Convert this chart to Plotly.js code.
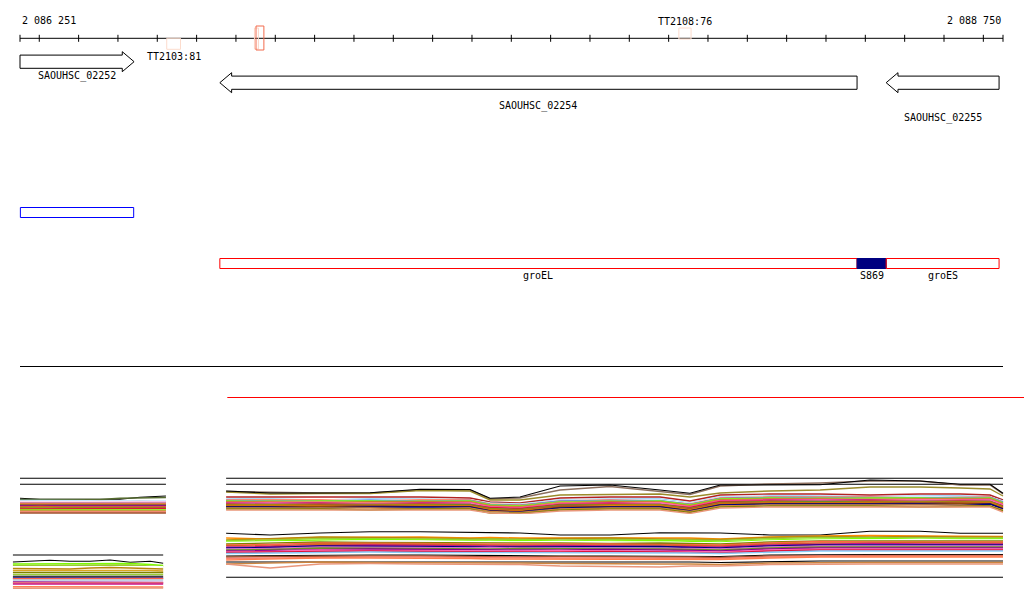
<!DOCTYPE html>
<html><head><meta charset="utf-8">
<script src="https://cdn.plot.ly/plotly-3.0.1.min.js"></script>
<style>html,body{margin:0;padding:0;background:#fff}#chart{width:1024px;height:611px}</style>
</head><body><div id="chart"></div>
<script>
// ---------------- DATA ----------------
const windowStart = 2086251;
const windowEnd = 2088750;
const rulerTicks = [2086251, 2086300, 2086400, 2086500, 2086600, 2086700, 2086800, 2086900,
  2087000, 2087100, 2087200, 2087300, 2087400, 2087500, 2087600, 2087700, 2087800, 2087900,
  2088000, 2088100, 2088200, 2088300, 2088400, 2088500, 2088600, 2088700, 2088750];

const geneNames = ["SAOUHSC_02252", "SAOUHSC_02254", "SAOUHSC_02255"];
const geneStarts = [2086251, 2086759, 2088453];
const geneEnds = [2086541, 2088379, 2088740];
const geneStrands = ["+", "-", "-"];

const termLabels = ["TT2103:81", "", "", "TT2108:76"];
const termStarts = [2086624, 2086847, 2086851, 2087926];
const termEnds = [2086659, 2086857, 2086871, 2087957];

const probeStarts = [2086252];
const probeEnds = [2086540];

const regionNames = ["groEL", "S869", "groES"];
const regionStarts = [2086759, 2088379, 2088453];
const regionEnds = [2088379, 2088453, 2088740];
const coverageStart = 2086778;

// expression panels (x in genome coordinates, y = signal level)
const panelA_x = [2086251, 2086302, 2086353, 2086404, 2086454, 2086505, 2086556, 2086622];
const panelA_colors = ["#000000","#000000","#000000","#556b2f","#87cefa","#808080","#ffffff","#ff69b4","#da70d6",
  "#9acd32","#ff6347","#b8860b","#000080","#c71585","#d2691e","#808000","#dc143c","#7cfc00","#cd853f","#fa8072","#a0522d"];
const panelA_values = [
  [36.7,36.7,36.7,36.7,36.7,36.7,36.7,36.7],
  [30.7,30.7,30.7,30.7,30.7,30.7,30.7,30.7],
  [16.7,15.7,15.7,15.7,15.7,15.7,17.7,19],
  [15.5,15.5,15.5,15.5,15.5,16.7,17,17.5],
  [14.5,14.5,14,14,14.5,14.5,14,14],
  [13.5,13,13,13,13.5,13,13.5,13],
  [13.8,13.8,14,13.8,13.8,14,13.8,13.8],
  [12.5,12.5,13,12.5,12.5,13,12.5,12.5],
  [12,12,12.5,12,12,12,12,12.5],
  [11.5,11.5,11.5,11.5,11.5,11.5,11.5,11.5],
  [11,11,10.5,11,11,11,10.5,11],
  [10,10,10,9.5,10,10,10,10],
  [9.5,9.5,9.5,9.5,9.5,9.5,10,9.5],
  [9,9,9,9,9,9,8.5,9],
  [8,8.5,8,8,8,8.5,8,8],
  [7,7,7,7,7.5,7,7,7],
  [6,6,6,6,6.5,6,6,6.5],
  [5,5,5,5.5,5,5,5,5],
  [4,4,4,4,4,4,4.5,4],
  [3,3,3,3,3,2.5,3,3],
  [2,2,1.5,1.5,1.5,1.5,2,2]
];

const panelB_x = [2086233, 2086276, 2086327, 2086378, 2086429, 2086480, 2086531, 2086582, 2086615];
const panelB_colors = ["#000000","#000000","#7cfc00","#9acd32","#ffffff","#b8860b","#daa520","#808000","#9acd32",
  "#000000","#000080","#ff6347","#b0c4de","#8b008b","#fa8072","#c71585","#ff7f50","#e9967a"];
const panelB_values = [
  [36,36,36,36,36,36,36,36,36],
  [29,29.7,30.7,29.7,29.7,31,28.7,29.7,27.7],
  [27,27,27,27,27.5,27.5,27.5,26.5,25.5],
  [25.5,25.5,25.5,25.5,26,26,26,25,24.5],
  [24.3,24.3,24.3,24.3,24.3,24.3,24.3,24.3,24.3],
  [22.5,22.5,22.5,22,23,23.5,23,22.5,22],
  [20.5,20.5,20.5,20.5,21,21,20.5,20.5,20],
  [18.5,18.5,18.5,19,19,18.5,18.5,18.5,18.5],
  [16.5,16.5,16.5,16.5,16.5,17,16.5,16.5,16.5],
  [14.7,14.7,14.7,14.7,14.7,14.7,14.7,14.7,14.7],
  [13,13,13,13,12.5,12.5,13,13,13],
  [12.3,12.3,12.5,12.5,12.5,12,12,12.5,12.5],
  [11,11,11,11,11,11,11,11,11],
  [9,9,9,8.5,8.5,9,9,8.5,8.5],
  [8,8,8,8,8,8,7.5,7.5,8],
  [7,7,7,7,7.5,7.5,7.5,7,7],
  [4.3,4.3,4.3,4.3,4.3,4.3,4.3,4,4],
  [2.7,2.7,2.7,2.7,3,3,3,3,3]
];

const panelC_x = [2086775, 2086887, 2087014, 2087141, 2087268, 2087395, 2087446, 2087522, 2087624, 2087751,
  2087878, 2087954, 2088031, 2088158, 2088285, 2088412, 2088539, 2088641, 2088717, 2088750];
const panelC_colors = ["#000000","#000000","#8b6f5e","#9b8b2b","#000000","#b22222",
  "#87cefa","#ffffff","#ff6347","#6495ed","#7cfc00","#9acd32","#d2691e","#fa8072","#c71585","#ff69b4",
  "#da70d6","#dc143c","#6b8e23","#b8860b","#a0522d","#ff8c00","#8b4513","#000080","#cd853f","#808000","#e9967a"];
const panelC_values = [
  [35.7,35.7,35.7,35.7,35.7,35.7,35.7,35.7,35.7,35.7,35.7,35.7,35.7,35.7,35.7,35.7,35.7,35.7,35.7,35.7],
  [29.7,29.7,29.7,29.7,29.7,29.7,29.7,29.7,29.7,29.7,29.7,29.7,29.7,29.7,29.7,29.7,29.7,29.7,29.7,29.7],
  [22.5,21.5,21,21,24,24,15,16,24,27.5,22.5,19.5,28,30,31,33,33,29,29,20],
  [22,20,20.5,20.5,23.5,23,14,14,19,19.5,20,17,21,23,24,27,27,26,25,18],
  [23,21,21,21.3,24.7,24.5,15.7,17,28,29,24,20.7,29,29.3,29.3,34,33,29.7,29.7,20.7],
  [17,17,17,17,17,16,12,11,16,17,17,13,19,20,20,19,20,20,19,14],
  [15,15,14,15,15,14,11,10,14,15,15,11,17,18,18,17,18,18,17,13],
  [14.5,14,14.5,14,14.5,14,10.5,9.5,13.5,14.5,14,10.5,16.5,17,17.5,17,17.5,17,17,12.5],
  [14,14,14,13,14,14,10,9,13,14,13,10,16,17,17,17,16,17,17,12],
  [13.5,13.5,13,14,13,13.5,9.5,8.5,13,13.5,13.5,9.5,15.5,16.5,16.5,16,16.5,16,16.5,12],
  [13,12,13,13,12,13,9,8,12,12,13,9,15,16,15,16,16,15,16,11],
  [12.5,13,12.5,12,13,12.5,8.5,7.5,12,13,12,8.5,14.5,15.5,16,15.5,15,16,15.5,11],
  [12,12,11,12,12,12,8,7,11,12,12,8,14,15,15,14,15,15,15,10],
  [11.5,11.5,12,11,11.5,11.5,7.5,6.5,11,11.5,11.5,7.5,13.5,14.5,14.5,14.5,14,14.5,14.5,9.5],
  [11,11,11,10,11,11,7,6,10,11,10,7,13,14,14,14,13,14,14,9],
  [10.5,11,10,10.5,10,11,7,6,10,10,11,7,13,13.5,14,13,14,13.5,14,9],
  [10,10,10,10,9,10,6,5,9,10,10,6,12,13,13,12,13,13,13,8],
  [10,9.5,10,9.5,10,9.5,6.5,5.5,9.5,10,9.5,6.5,12.5,13,12.5,13,12.5,13,12.5,8],
  [9.5,9.5,9.5,10,9.5,9.5,5.5,4.5,9,9.5,9.5,5.5,11.5,12.5,12.5,12.5,12.5,12,12.5,7.5],
  [9,9,9,9,9,8,5,4,8,9,9,5,11,12,11,12,12,12,12,7],
  [8.5,8,9,8.5,8,8.5,4.5,3.5,8,8.5,8,5,10.5,11.5,11,11.5,11,11.5,11,6.5],
  [8,8,8,7,8,8,4,3,7,8,8,4,10,11,11,11,10,11,11,6],
  [7.5,7.5,7.5,7,7.5,7.5,3.5,2.5,7,7.5,7.5,3.5,9.5,10.5,10.5,10,10.5,10.5,10.5,5.5],
  [7,7,6,7,7,7,3,2,6,7,7,3,9,10,10,10,10,9,10,5],
  [6,6,6,6,5,6,2.5,1.5,5,6,6,2.5,8,9,9,9,9,9,8,4],
  [5,5,5,4,5,5,1,0.5,4,5,5,1.5,7,8,8,8,7,8,8,3],
  [4,4,4,4,4,4,1,0,3,4,4,0.5,6,7,7,7,7,7,7,2]
];

const panelD_x = panelC_x;
const panelD_colors = ["#000000","#000000","#ff8c00","#b8860b","#9acd32","#7cfc00","#ffffff","#808000","#ff6347",
  "#d2691e","#c71585","#000080","#da70d6","#6b8e23","#8b008b","#ff69b4","#dc143c","#87cefa","#000000","#a0522d",
  "#fa8072","#ff7f50","#000000","#cd853f","#e9967a"];
const panelD_values = [
  [46.7,45,47,48.3,48.3,47.3,47.3,47,45,45,47.3,47.3,47,45,45,48.7,48.7,46.7,46.7,46.7],
  [2.7,2.7,2.7,2.7,2.7,2.7,2.7,2.7,2.7,2.7,2.7,2.7,2.7,2.7,2.7,2.7,2.7,2.7,2.7,2.7],
  [42,41,42.5,43,43,42,42.5,42,42,41.5,42,42,41,43,44,44.5,44,44,44,43.5],
  [40,41.5,43,42.5,42,41.5,41,41,41.5,42,41,41,40.5,42.5,43.5,43,43.5,43,43.5,43],
  [39.5,40,41.5,41.5,41,40.5,41,40.5,40,40.5,40.5,40,39.5,41.5,42.5,42.5,42,42.5,42.5,42],
  [38.5,39,40,40.5,40,39,39,39.5,39,39,39.5,38.5,38,40,41,41.5,41,41,41.5,41],
  [37.5,38,39,39,39,38.5,38,38,38.5,38,38,37.5,37,39,40,40,40.5,40,40,40],
  [36,37,38,37.5,37.5,37,37.5,37,37,36.5,37,36.5,36,38,39,39,39,39.5,39,39],
  [35,35.5,37,37,36.5,36,36,36.5,36,36,35.5,35.5,35,37,38.5,38,38,38,38,38],
  [34.5,34,36,36,35.5,35.5,35,35,35,35.5,35,34.5,34,36,37,37,37.5,37,37,37],
  [33,33.5,34.5,35,34.5,34,34,34,34.5,34,34,33.5,33,35,36,36.5,36,36,36,36],
  [32,32.5,34,33.5,33.5,33,33,33,33,33,33.5,32.5,32,34,35,35,35,35.5,35,35],
  [31,31.5,33,33,32.5,32,32.5,32,32,32,32,31.5,31,33,34,34,34,34,34.5,34],
  [30,30.5,32,31.5,31.5,31,31,31.5,31,31,31,30.5,30,32,33,33,33,33,33,33],
  [29,29.5,30.5,31,30.5,30,30,30,30,30.5,30,29.5,29,31,32,32,32,32,32,32],
  [28,28.5,30,29.5,29.5,29,29,29,29.5,29,29,28.5,28,30,31,31,31,31,31,31],
  [27.5,28,29,29,28.5,28,28,28,28,28.5,28,27.5,27,29,30,30,30,30,30,30],
  [26.5,27,28,28,27.5,27.5,27,27,27,27,27,27,26.5,28,29,29,29,29,29,29],
  [24,24.5,25,25,25,24.5,24,24,24,24,24,24,23.5,25,25.5,25.5,25.5,25.5,25.5,25.5],
  [23,23.5,24,24,24,23.5,23,23,23.5,23,23,23,22.5,24,24.5,24.5,24.5,24.5,24.5,24.5],
  [21.5,22,23,23,23,22.5,22,22,22,22,22,22,21.5,23,24,24,24,24,24,24],
  [20,21,22,22,22,21.5,21,21,21,21,21,21,20.5,22,23,23,23,23,23,23],
  [18,18,18.5,18.5,18.5,18,18,18,18,18,18,18,17.5,18.5,19,19,19,19,19,19],
  [16,17,18,17.5,17.5,17,17,17,16.5,16,16,16,15.5,17,17.5,17.5,17.5,17.5,17.5,17.5],
  [16,12,16,16.5,16,16,15.5,15.5,14,13.5,13,14,14,15.5,16,16,16,16,16,16]
];

// ---------------- LAYOUT / STYLE ----------------
const W = 1024, H = 611;
const rulerLeftPx = 20, rulerRightPx = 1003;
const bpp = (windowEnd - windowStart) / (rulerRightPx - rulerLeftPx);
const xMin = windowStart - rulerLeftPx * bpp;
const xMax = windowStart + (W - rulerLeftPx) * bpp;
const RULER_Y = 38.3;
const FONT = {family: "DejaVu Sans Mono, monospace", size: 10, color: "#000"};
const headLen = 30;
const geneRows = {"+": 61.7, "-": 82.7};
const geneLabelRows = [76, 106, 118];
const bodyHalf = 6.6, headHalf = 10;
const termRows = [[38.3, 49.3], [28, 49], [26, 50], [28, 39]];
const termLabelRows = [56, 0, 0, 21];
const termColors = ["#fcdccd", "#fbd3c4", "#f26b4c", "#fcdccd"];
const probeRow = [207.5, 217.5];
const regionRow = [258.5, 268.5];
const regionLabelY = 275;
const SEP1_Y = 366.5, SEP2_Y = 397.5;

function dom(top, bottom) { return [1 - bottom / H, 1 - top / H]; }
const panels = [
  {ax: "y2", key: "yaxis2", x: panelA_x, colors: panelA_colors, vals: panelA_values, top: 476, bottom: 515},
  {ax: "y3", key: "yaxis3", x: panelB_x, colors: panelB_colors, vals: panelB_values, top: 553, bottom: 591},
  {ax: "y4", key: "yaxis4", x: panelC_x, colors: panelC_colors, vals: panelC_values, top: 476, bottom: 514},
  {ax: "y5", key: "yaxis5", x: panelD_x, colors: panelD_colors, vals: panelD_values, top: 530, bottom: 580}
];

const traces = [];
// ruler
traces.push({
  type: "scatter", mode: "lines+markers", x: rulerTicks, y: rulerTicks.map(() => RULER_Y),
  xaxis: "x", yaxis: "y", line: {color: "#000", width: 1},
  marker: {symbol: "line-ns", size: 5, color: "#000", line: {color: "#000", width: 1}},
  hoverinfo: "skip"
});

const layout = {
  width: W, height: H, margin: {l: 0, r: 0, t: 0, b: 0},
  paper_bgcolor: "#fff", plot_bgcolor: "rgba(0,0,0,0)", showlegend: false, hovermode: false,
  xaxis: {range: [xMin, xMax], visible: false, domain: [0, 1], fixedrange: true},
  yaxis: {range: [H, 0], visible: false, domain: [0, 1], fixedrange: true},
  shapes: [], annotations: []
};

panels.forEach(p => {
  layout[p.key] = {range: [0, p.bottom - p.top], domain: dom(p.top, p.bottom), visible: false, anchor: "x", fixedrange: true};
  p.vals.forEach((v, i) => {
    const isBlack = p.colors[i] === "#000000";
    traces.push({
      type: "scatter", mode: "lines", x: p.x, y: v, xaxis: "x", yaxis: p.ax,
      line: {color: p.colors[i], width: isBlack ? 1.1 : 1.4, shape: "linear"},
      hoverinfo: "skip"
    });
  });
});

const S = layout.shapes, A = layout.annotations;

// window labels
const fmt = n => String(n).replace(/\B(?=(\d{3})+(?!\d))/g, " ");
A.push({x: windowStart, y: 20, xref: "x", yref: "y", text: fmt(windowStart), showarrow: false, xanchor: "left", yanchor: "middle", font: FONT});
A.push({x: windowEnd, y: 20, xref: "x", yref: "y", text: fmt(windowEnd), showarrow: false, xanchor: "right", yanchor: "middle", font: FONT});

// terminators
termStarts.forEach((s, i) => {
  S.push({type: "rect", xref: "x", yref: "y", x0: s, x1: termEnds[i], y0: termRows[i][0], y1: termRows[i][1],
    line: {color: termColors[i], width: 1}, fillcolor: "rgba(0,0,0,0)"});
  if (termLabels[i]) A.push({x: (s + termEnds[i]) / 2, y: termLabelRows[i], xref: "x", yref: "y", text: termLabels[i],
    showarrow: false, xanchor: "center", yanchor: "middle", font: FONT});
});

// genes
geneStarts.forEach((s, i) => {
  const e = geneEnds[i], yc = geneRows[geneStrands[i]];
  let path;
  if (geneStrands[i] === "+") {
    path = `M${s},${yc - bodyHalf} L${e - headLen},${yc - bodyHalf} L${e - headLen},${yc - headHalf} L${e},${yc} L${e - headLen},${yc + headHalf} L${e - headLen},${yc + bodyHalf} L${s},${yc + bodyHalf} Z`;
  } else {
    path = `M${e},${yc - bodyHalf} L${s + headLen},${yc - bodyHalf} L${s + headLen},${yc - headHalf} L${s},${yc} L${s + headLen},${yc + headHalf} L${s + headLen},${yc + bodyHalf} L${e},${yc + bodyHalf} Z`;
  }
  S.push({type: "path", xref: "x", yref: "y", path: path, line: {color: "#000", width: 1}, fillcolor: "#fff"});
  A.push({x: (s + e) / 2, y: geneLabelRows[i], xref: "x", yref: "y", text: geneNames[i], showarrow: false,
    xanchor: "center", yanchor: "middle", font: FONT});
});

// probe
probeStarts.forEach((s, i) => {
  S.push({type: "rect", xref: "x", yref: "y", x0: s, x1: probeEnds[i], y0: probeRow[0], y1: probeRow[1],
    line: {color: "#0000ff", width: 1}, fillcolor: "rgba(0,0,0,0)"});
});

// regions
regionStarts.forEach((s, i) => {
  const isS = regionNames[i] === "S869";
  S.push({type: "rect", xref: "x", yref: "y", x0: s, x1: regionEnds[i], y0: regionRow[0], y1: regionRow[1],
    line: {color: isS ? "#000080" : "#ff0000", width: 1}, fillcolor: isS ? "#000080" : "rgba(0,0,0,0)"});
  A.push({x: (s + regionEnds[i]) / 2, y: regionLabelY, xref: "x", yref: "y", text: regionNames[i], showarrow: false,
    xanchor: "center", yanchor: "middle", font: FONT});
});

// separators
S.push({type: "line", xref: "x", yref: "y", x0: windowStart, x1: windowEnd, y0: SEP1_Y, y1: SEP1_Y, line: {color: "#000", width: 1}});
S.push({type: "line", xref: "x", yref: "y", x0: coverageStart, x1: xMax, y0: SEP2_Y, y1: SEP2_Y, line: {color: "#ff0000", width: 1}});

Plotly.newPlot("chart", traces, layout, {staticPlot: true, displayModeBar: false});
</script>
</body></html>
